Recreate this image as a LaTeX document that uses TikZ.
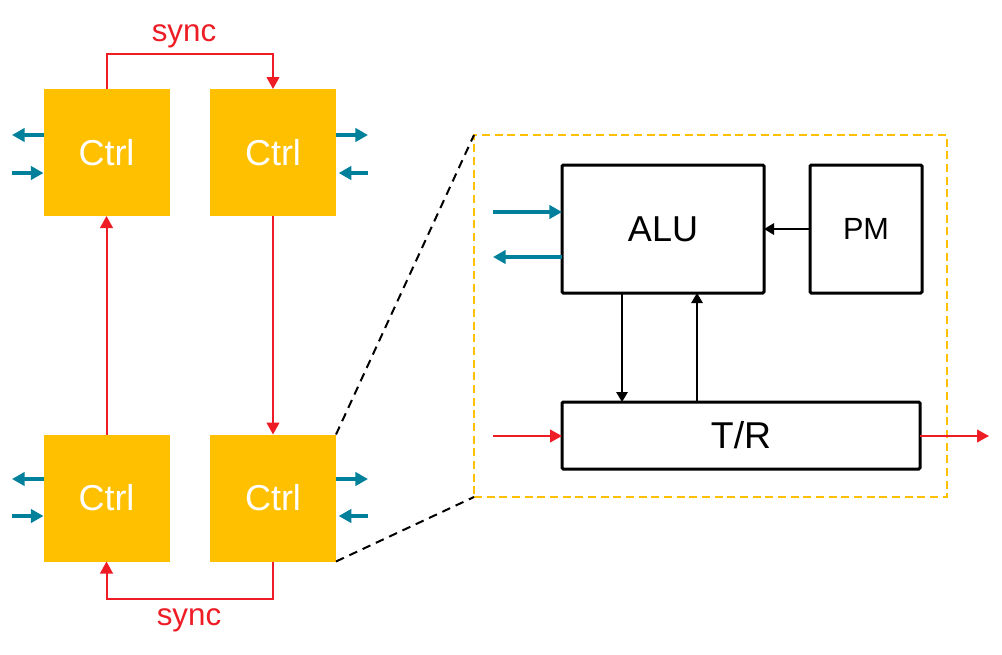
\documentclass[tikz,border=0pt]{standalone}
\usepackage{fontspec}
\setmainfont{Liberation Sans}
\usetikzlibrary{arrows.meta}
\definecolor{ctrlor}{HTML}{FFC000}
\definecolor{teala}{HTML}{00809A}
\definecolor{reda}{HTML}{EE1C25}
\begin{document}
\begin{tikzpicture}[x=0.75pt,y=-0.75pt,
  ctrlbox/.style={fill=ctrlor, text=white, minimum width=94.5pt, minimum height=95.25pt, inner sep=0pt, outer sep=0pt, font=\fontsize{27}{30}\selectfont},
  blkbox/.style={draw=black, line width=2.25pt, rounded corners=1pt, inner sep=0pt, outer sep=0pt, fill=white},
  redarr/.style={draw=reda, line width=1.5pt, -{Triangle[length=9pt,width=9.5pt]}},
  tealarr/.style={draw=teala, line width=2.4pt, -{Triangle[length=9.5pt,width=10pt]}},
  blkarr/.style={draw=black, line width=1.5pt, -{Triangle[length=7.5pt,width=8.5pt]}},
  synclbl/.style={text=reda, font=\fontsize{23.5}{26}\selectfont, inner sep=0pt},
  zoomline/.style={draw=black, line width=1.5pt, dash pattern=on 6.5pt off 4.5pt}
]
\useasboundingbox (0,0) rectangle (1002,654);

% Ctrl boxes
\node[ctrlbox] (tl) at (106.5,152.5) {Ctrl};
\node[ctrlbox] (tr) at (273,152.5) {Ctrl};
\node[ctrlbox] (bl) at (106.5,498) {Ctrl};
\node[ctrlbox] (br) at (273,498) {Ctrl};

% sync connections
\draw[redarr] (tl.north) -- ++(0,-35) -| (tr.north);
\node[synclbl] (s1) at (184,36) {sync};
\draw[redarr] (br.south) -- ++(0,37) -| (bl.south);
\node[synclbl] (s2) at (189,620) {sync};
\draw[redarr] (bl.north) -- (tl.south);
\draw[redarr] (tr.south) -- (br.north);

% teal side arrows
\coordinate (a1) at (12,135);
\coordinate (a2) at (12,173);
\coordinate (a3) at (12,479);
\coordinate (a4) at (12,516);
\coordinate (b1) at (368,135);
\coordinate (b2) at (368,173);
\coordinate (b3) at (368,479);
\coordinate (b4) at (368,516);
\draw[tealarr] (tl.west |- a1) -- (a1);
\draw[tealarr] (a2) -- (tl.west |- a2);
\draw[tealarr] (bl.west |- a3) -- (a3);
\draw[tealarr] (a4) -- (bl.west |- a4);
\draw[tealarr] (tr.east |- b1) -- (b1);
\draw[tealarr, shorten >=2pt] (b2) -- (tr.east |- b2);
\draw[tealarr] (br.east |- b3) -- (b3);
\draw[tealarr, shorten >=2pt] (b4) -- (br.east |- b4);

% zoom frame
\node[draw=ctrlor, line width=1.5pt, dash pattern=on 6pt off 3.5pt, minimum width=354.75pt, minimum height=271.5pt, inner sep=0pt, outer sep=0pt] (zoom) at (710.5,316) {};
\draw[zoomline] (br.north east) -- (zoom.north west);
\draw[zoomline] (br.south east) -- (zoom.south west);

% inner blocks
\node[blkbox, minimum width=151.5pt, minimum height=96pt, font=\fontsize{27}{30}\selectfont] (alu) at (663,229) {ALU};
\node[blkbox, minimum width=84pt, minimum height=96pt, font=\fontsize{23}{26}\selectfont] (pm) at (866,229) {PM};
\node[blkbox, minimum width=268.5pt, minimum height=50.25pt, font=\fontsize{28}{30}\selectfont] (tr2) at (741,435.5) {T/R};

\draw[blkarr] (pm.west) -- (alu.east);
\coordinate (c1) at (622,0);
\coordinate (c2) at (697,0);
\draw[blkarr] (alu.south -| c1) -- (tr2.north -| c1);
\draw[blkarr] (tr2.north -| c2) -- (alu.south -| c2);

\coordinate (ti) at (493,212);
\coordinate (to) at (493,257);
\draw[tealarr] (ti) -- (alu.west |- ti);
\draw[tealarr] (alu.west |- to) -- (to);

\coordinate (ri) at (493,436);
\coordinate (ro) at (989,436);
\draw[redarr] (ri) -- (tr2.west |- ri);
\draw[redarr] (tr2.east |- ro) -- (ro);
\end{tikzpicture}
\end{document}
